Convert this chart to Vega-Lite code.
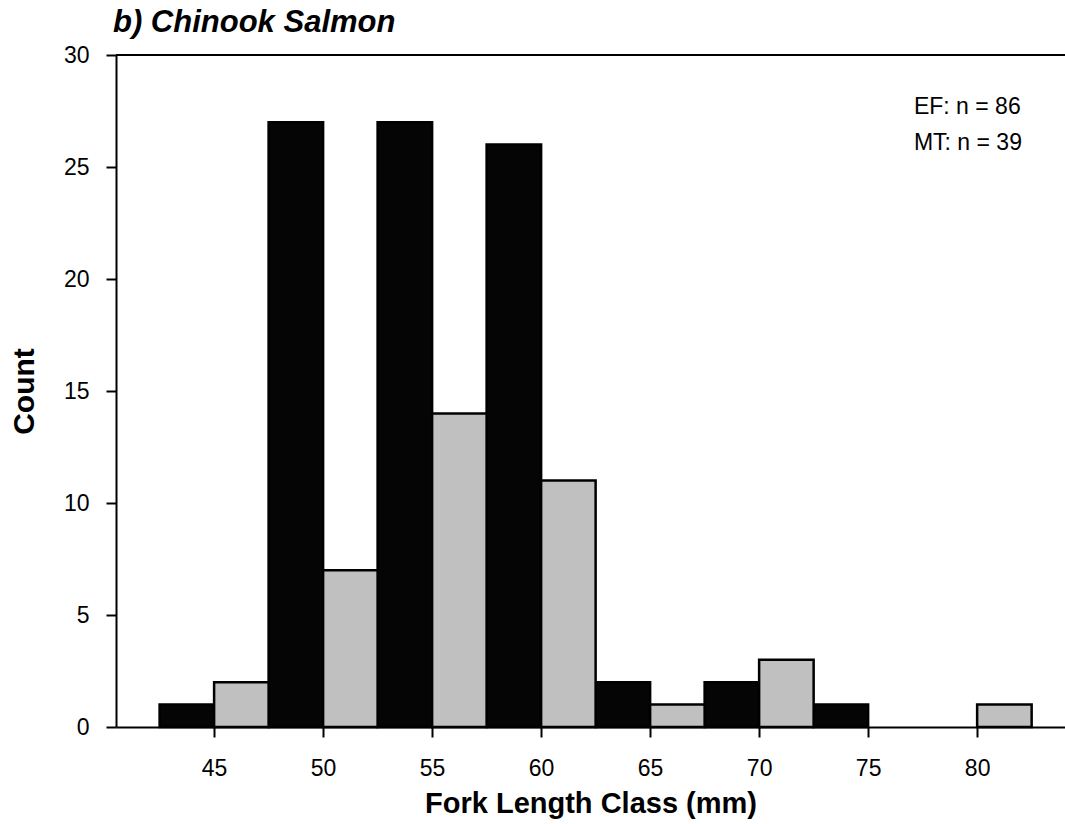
{
  "$schema": "https://vega.github.io/schema/vega-lite/v6.json",
  "width": 949,
  "height": 672,
  "autosize": "none",
  "padding": {"left": 116, "top": 55, "right": 0, "bottom": 97},
  "background": "white",
  "config": {
    "view": {"stroke": null},
    "font": "Liberation Sans"
  },
  "title": {
    "text": "b) Chinook Salmon",
    "anchor": "start",
    "frame": "group",
    "font": "Liberation Sans",
    "fontSize": 31,
    "fontWeight": "bold",
    "fontStyle": "italic",
    "color": "#000000",
    "baseline": "alphabetic",
    "offset": -19,
    "dx": -3
  },
  "datasets": {
    "bars": [
      {"method": "EF", "start": 42.5, "end": 45, "count": 1},
      {"method": "EF", "start": 47.5, "end": 50, "count": 27},
      {"method": "EF", "start": 52.5, "end": 55, "count": 27},
      {"method": "EF", "start": 57.5, "end": 60, "count": 26},
      {"method": "EF", "start": 62.5, "end": 65, "count": 2},
      {"method": "EF", "start": 67.5, "end": 70, "count": 2},
      {"method": "EF", "start": 72.5, "end": 75, "count": 1},
      {"method": "MT", "start": 45, "end": 47.5, "count": 2},
      {"method": "MT", "start": 50, "end": 52.5, "count": 7},
      {"method": "MT", "start": 55, "end": 57.5, "count": 14},
      {"method": "MT", "start": 60, "end": 62.5, "count": 11},
      {"method": "MT", "start": 65, "end": 67.5, "count": 1},
      {"method": "MT", "start": 70, "end": 72.5, "count": 3},
      {"method": "MT", "start": 80, "end": 82.5, "count": 1}
    ],
    "notes": [
      {"label": "EF: n = 86", "x": 77.1, "y": 27.35},
      {"label": "MT: n = 39", "x": 77.1, "y": 25.75}
    ],
    "top": [{"y": 30}]
  },
  "layer": [
    {
      "data": {"name": "bars"},
      "mark": {"type": "rect", "stroke": "#000000", "strokeWidth": 2.5},
      "encoding": {
        "x": {
          "field": "start",
          "type": "quantitative",
          "scale": {"domain": [40.5, 84.03], "nice": false, "zero": false},
          "axis": {
            "values": [45, 50, 55, 60, 65, 70, 75, 80],
            "title": "Fork Length Class (mm)",
            "titleFont": "Liberation Sans",
            "titleFontSize": 29,
            "titleFontWeight": "bold",
            "titleColor": "#000000",
            "titlePadding": 9,
            "labelFont": "Liberation Sans",
            "labelFontSize": 23,
            "labelColor": "#000000",
            "labelPadding": 20,
            "labelFlush": false,
            "labelOverlap": false,
            "tickSize": 10,
            "tickWidth": 2,
            "tickColor": "#000000",
            "domainColor": "#000000",
            "domainWidth": 2,
            "grid": false
          }
        },
        "x2": {"field": "end"},
        "y": {
          "field": "count",
          "type": "quantitative",
          "scale": {"domain": [0, 30], "nice": false},
          "axis": {
            "values": [0, 5, 10, 15, 20, 25, 30],
            "title": "Count",
            "titleFont": "Liberation Sans",
            "titleFontSize": 30,
            "titleFontWeight": "bold",
            "titleColor": "#000000",
            "titlePadding": 24,
            "labelFont": "Liberation Sans",
            "labelFontSize": 23,
            "labelColor": "#000000",
            "labelPadding": 17,
            "labelFlush": false,
            "labelOverlap": false,
            "tickSize": 10,
            "tickWidth": 2,
            "tickColor": "#000000",
            "domainColor": "#000000",
            "domainWidth": 2,
            "grid": false
          }
        },
        "y2": {"datum": 0},
        "color": {
          "field": "method",
          "type": "nominal",
          "scale": {"domain": ["EF", "MT"], "range": ["#050505", "#C0C0C0"]},
          "legend": null
        }
      }
    },
    {
      "data": {"name": "top"},
      "mark": {"type": "rule", "color": "#000000", "strokeWidth": 2},
      "encoding": {
        "y": {"field": "y", "type": "quantitative"}
      }
    },
    {
      "data": {"name": "notes"},
      "mark": {
        "type": "text",
        "align": "left",
        "baseline": "alphabetic",
        "font": "Liberation Sans",
        "fontSize": 23,
        "color": "#000000"
      },
      "encoding": {
        "x": {"field": "x", "type": "quantitative"},
        "y": {"field": "y", "type": "quantitative"},
        "text": {"field": "label"}
      }
    }
  ]
}
